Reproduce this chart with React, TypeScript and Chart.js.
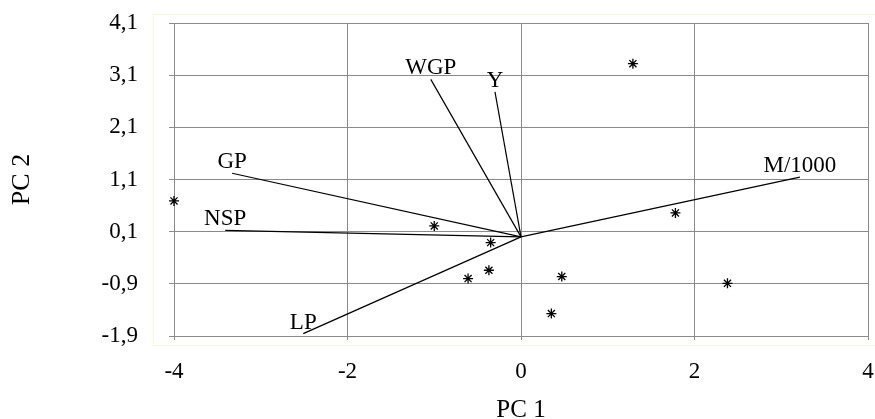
import React, { useEffect, useRef } from 'react';
import { Chart, registerables } from 'chart.js';

Chart.register(...registerables);

// Loading vectors (from origin)
const vectorNames = ['WGP', 'Y', 'GP', 'NSP', 'LP', 'M/1000'];
const vectorX = [-1.04, -0.3, -3.33, -3.41, -2.51, 3.215];
const vectorY = [3.02, 2.78, 1.22, 0.125, -1.855, 1.146];

// Score points
const pointX = [-4.0, -1.0, -0.35, -0.37, -0.61, 0.47, 0.35, 2.38, 1.78, 1.29];
const pointY = [0.69, 0.21, -0.11, -0.64, -0.8, -0.76, -1.47, -0.89, 0.46, 3.32];

// Axes
const xTicks = [-4, -2, 0, 2, 4];
const yTicks = [-1.9, -0.9, 0.1, 1.1, 2.1, 3.1, 4.1];
const xTitle = 'PC 1';
const yTitle = 'PC 2';

const FONT = "'Liberation Serif', 'Times New Roman', serif";

export default function App() {
  const canvasRef = useRef<HTMLCanvasElement | null>(null);

  useEffect(() => {
    document.body.style.margin = '0';
    const canvas = canvasRef.current;
    if (!canvas) return;

    const vectorDatasets = vectorNames.map((name, i) => ({
      type: 'line' as const,
      label: name,
      data: [
        { x: 0, y: 0 },
        { x: vectorX[i], y: vectorY[i] },
      ],
      borderColor: '#000',
      borderWidth: 1.2,
      pointRadius: 0,
      showLine: true,
      fill: false,
      tension: 0,
      clip: false,
    }));

    const labelPlugin = {
      id: 'vectorLabels',
      beforeDraw(chart: any) {
        const ctx = chart.ctx;
        ctx.save();
        ctx.strokeStyle = '#f8f6d8';
        ctx.lineWidth = 1;
        ctx.strokeRect(153.5, 14.5, 730, 331);
        ctx.restore();
      },
      afterDatasetsDraw(chart: any) {
        const ctx = chart.ctx;
        const xs = chart.scales.x;
        const ys = chart.scales.y;
        ctx.save();
        ctx.font = `23px ${FONT}`;
        ctx.fillStyle = '#000';
        ctx.textAlign = 'center';
        ctx.textBaseline = 'middle';
        vectorNames.forEach((name, i) => {
          const px = xs.getPixelForValue(vectorX[i]);
          const py = ys.getPixelForValue(vectorY[i]) - 11;
          ctx.fillText(name, px, py);
        });
        ctx.restore();
      },
    };

    const chart = new Chart(canvas, {
      type: 'scatter',
      data: {
        datasets: [
          ...vectorDatasets,
          {
            type: 'scatter' as const,
            label: 'scores',
            data: pointX.map((x, i) => ({ x, y: pointY[i] })),
            pointStyle: 'star',
            pointRadius: 5,
            borderColor: '#000',
            backgroundColor: '#000',
            borderWidth: 1.3,
            clip: false,
          },
        ] as any,
      },
      options: {
        animation: false,
        responsive: true,
        maintainAspectRatio: false,
        layout: { padding: { top: 23, right: 7, left: 0, bottom: 0 } },
        plugins: {
          legend: { display: false },
          tooltip: { enabled: false },
        },
        scales: {
          x: {
            type: 'linear',
            min: -4,
            max: 4,
            afterBuildTicks: (scale: any) => {
              scale.ticks = xTicks.map((v) => ({ value: v }));
            },
            afterFit: (scale: any) => {
              scale.height = 83;
              scale.paddingLeft = 0;
              scale.paddingRight = 0;
              scale.paddingTop = 0;
              scale.paddingBottom = 0;
            },
            grid: {
              color: '#8a8a8a',
              lineWidth: 1,
              tickLength: 4,
            },
            border: { color: '#8a8a8a' },
            ticks: {
              color: '#000',
              padding: 18,
              font: { family: FONT, size: 23 },
              callback: (v: any) => String(v),
            },
            title: {
              display: true,
              text: xTitle,
              color: '#000',
              font: { family: FONT, size: 25, lineHeight: 0.72 },
              padding: { top: 0, bottom: 0 },
            },
          },
          y: {
            type: 'linear',
            min: -1.9,
            max: 4.1,
            afterBuildTicks: (scale: any) => {
              scale.ticks = yTicks.map((v) => ({ value: v }));
            },
            afterFit: (scale: any) => {
              scale.width = 174;
              scale.paddingLeft = 0;
              scale.paddingRight = 0;
              scale.paddingTop = 0;
              scale.paddingBottom = 0;
            },
            grid: {
              color: '#8a8a8a',
              lineWidth: 1,
              tickLength: 5,
            },
            border: { color: '#8a8a8a' },
            ticks: {
              color: '#000',
              padding: 31,
              font: { family: FONT, size: 23 },
              callback: (v: any) => Number(v).toFixed(1).replace('.', ','),
            },
            title: {
              display: true,
              text: yTitle,
              color: '#000',
              font: { family: FONT, size: 26, lineHeight: 1 },
              padding: { top: 9, bottom: 0 },
            },
          },
        },
      },
      plugins: [labelPlugin],
    });

    return () => {
      chart.destroy();
    };
  }, []);

  return (
    <div style={{ position: 'fixed', left: 0, top: 0, width: 875, height: 419 }}>
      <canvas ref={canvasRef} />
    </div>
  );
}
